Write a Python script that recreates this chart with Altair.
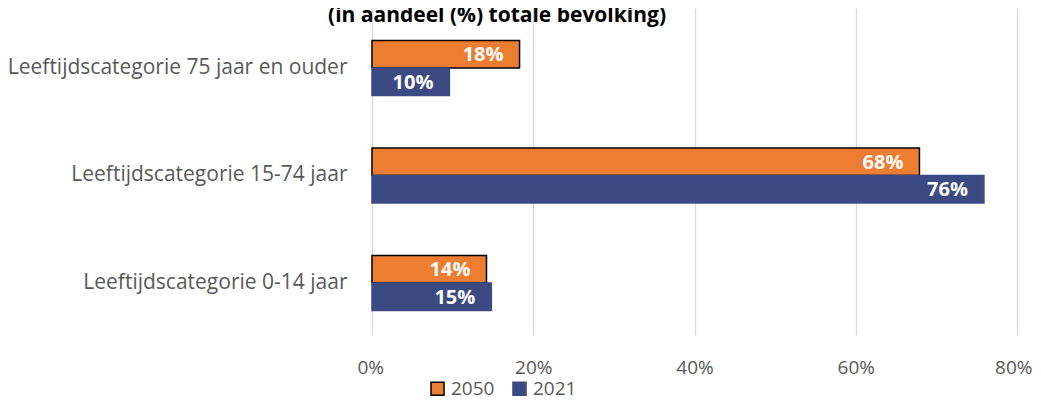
import altair as alt
import pandas as pd

categories = [
    "Leeftijdscategorie 75 jaar en ouder",
    "Leeftijdscategorie 15-74 jaar",
    "Leeftijdscategorie 0-14 jaar",
]
years = ["2050", "2021"]
values_2050 = [0.183, 0.679, 0.142]
values_2021 = [0.096, 0.759, 0.148]
title_text = "(in aandeel (%) totale bevolking)"

rows = []
for c, v50, v21 in zip(categories, values_2050, values_2021):
    rows.append({"cat": c, "year": "2050", "value": v50})
    rows.append({"cat": c, "year": "2021", "value": v21})
df = pd.DataFrame(rows)

FONT = "Open Sans"
GRAY = "#595959"
ORANGE = "#ED7D31"
NAVY = "#3C4A84"

legend = alt.Legend(
    title=None, orient="none", direction="horizontal",
    legendX=56, legendY=371, symbolType="square", symbolSize=170,
    labelFontSize=19, labelFont=FONT, labelColor=GRAY, columnPadding=14,
    symbolStrokeWidth=1.5, labelOffset=4, padding=0,
)

base = alt.Chart(df).encode(
    y=alt.Y("cat:N", sort=categories, title=None,
            scale=alt.Scale(paddingInner=0.488, paddingOuter=0.265, align=0.57),
            axis=alt.Axis(ticks=False, domain=False, labelPadding=25,
                          labelFontSize=21, labelFont=FONT, labelColor=GRAY,
                          labelLimit=400)),
    yOffset=alt.YOffset("year:N", sort=years,
                        scale=alt.Scale(domain=years, paddingInner=0, paddingOuter=0)),
    x=alt.X("value:Q", title=None,
            scale=alt.Scale(domain=[0, 0.8], nice=False),
            axis=alt.Axis(values=[0, 0.2, 0.4, 0.6, 0.8], format=".0%",
                          ticks=False, domain=False, grid=True,
                          gridColor="#d9d9d9", gridWidth=1.3,
                          labelFlush=True, labelFlushOffset=15,
                          labelPadding=23, labelFontSize=19, labelFont=FONT,
                          labelColor=GRAY)),
)

bars = base.mark_bar(strokeWidth=1.5).encode(
    fill=alt.Fill("year:N", sort=years,
                  scale=alt.Scale(domain=years, range=[ORANGE, NAVY]),
                  legend=legend),
    stroke=alt.Stroke("year:N", sort=years,
                      scale=alt.Scale(domain=years, range=["#000000", NAVY]),
                      legend=legend),
)

labels = base.mark_text(align="right", baseline="middle", dx=-16, dy=1,
                        color="white", fontWeight="bold", fontSize=20,
                        font=FONT).encode(
    text=alt.Text("value:Q", format=".0%")
)

title = alt.Chart(pd.DataFrame({"t": [title_text]})).mark_text(
    align="center", baseline="alphabetic", font=FONT, fontWeight="bold",
    fontSize=21, color="#000000",
).encode(text="t:N", x=alt.value(125), y=alt.value(14))

chart = alt.layer(bars, labels, title).properties(
    width=645, height=327,
    autosize=alt.AutoSizeParams(type="none"),
    padding={"left": 364, "top": 0, "right": 16, "bottom": 65},
).configure_view(stroke=None)

chart.save("out.html", embed_options={"renderer": "svg", "actions": False})
